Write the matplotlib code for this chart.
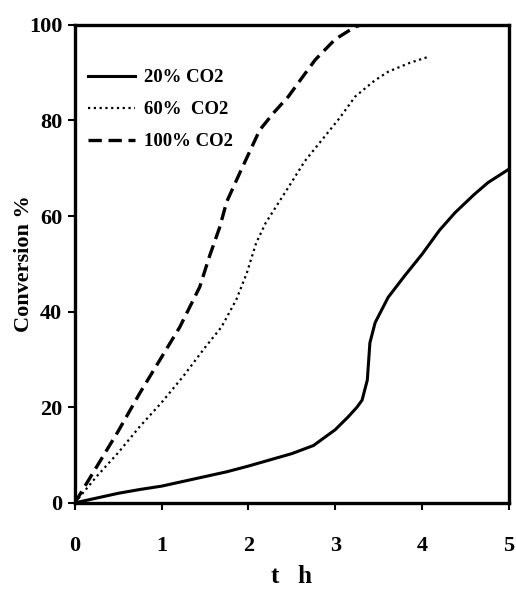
import matplotlib.pyplot as plt

# values
t_20 = [0, 0.25, 0.5, 0.75, 1.0, 1.25, 1.5, 1.75, 2.0, 2.25, 2.5, 2.75, 3.0, 3.15,
        3.25, 3.31, 3.37, 3.40, 3.46, 3.61, 3.8, 4.0, 4.2, 4.38, 4.6, 4.76, 5.0]
conv_20 = [0, 1.0, 2.0, 2.8, 3.5, 4.5, 5.5, 6.5, 7.7, 9.0, 10.3, 12.0, 15.3, 18.0,
           20.0, 21.5, 25.7, 33.5, 37.7, 43.0, 47.5, 52.0, 57.0, 60.7, 64.5, 67.0, 69.8]

t_60 = [0, 0.25, 0.5, 0.75, 1.0, 1.25, 1.5, 1.69, 1.86, 1.98, 2.09, 2.2, 2.46,
        2.65, 2.85, 3.05, 3.23, 3.45, 3.61, 3.85, 4.07]
conv_60 = [0, 5.5, 10.5, 16.0, 21.0, 26.5, 32.5, 36.8, 42.5, 48.0, 54.4, 58.6, 66.0,
           71.5, 76.0, 80.5, 85.0, 88.3, 90.2, 92.0, 93.3]

t_100 = [0, 0.25, 0.5, 0.75, 1.0, 1.21, 1.44, 1.55, 1.67, 1.75, 1.9, 2.13, 2.3,
         2.46, 2.62, 2.77, 3.0, 3.23, 3.3]
conv_100 = [0, 7.5, 15.0, 23.0, 30.5, 36.8, 45.2, 51.5, 57.7, 63.0, 69.0, 78.0, 81.8,
            85.0, 89.0, 92.7, 97.0, 99.6, 100.0]

labels = ["20% CO2", "60%  CO2", "100% CO2"]
x_ticks = [0, 1, 2, 3, 4, 5]
y_ticks = [0, 20, 40, 60, 80, 100]

plt.rcParams["font.family"] = ["Liberation Serif", "DejaVu Serif"]
plt.rcParams["font.weight"] = "bold"

fig = plt.figure(figsize=(5.16, 5.93), dpi=100)
ax = fig.add_axes([0.145, 0.152, 0.841, 0.806])

ax.plot(t_20, conv_20, color="black", lw=2.2, ls="-", label=labels[0])
ax.plot(t_60, conv_60, color="black", lw=1.6, ls=(0, (1, 1.6)), label=labels[1])
ax.plot(t_100, conv_100, color="black", lw=2.4, ls=(0, (4, 2)), label=labels[2])

ax.set_xlim(0, 5)
ax.set_ylim(0, 100)
ax.set_xticks(x_ticks)
ax.set_yticks(y_ticks)

for side in ax.spines.values():
    side.set_linewidth(2.4)

ax.tick_params(axis="both", direction="out", length=5, width=1.5, labelsize=16)
ax.tick_params(axis="x", pad=19)
ax.tick_params(axis="y", pad=4)

ax.set_xlabel("t   h", fontsize=18, fontweight="bold")
ax.xaxis.set_label_coords(0.5, -0.13)
ax.set_ylabel("Conversion %", fontsize=16, fontweight="bold")
ax.yaxis.set_label_coords(-0.095, 0.5)

ax.legend(loc="upper left", frameon=False, fontsize=13.5, handlelength=2.5,
          handletextpad=0.5, labelspacing=0.8, borderaxespad=0.3,
          bbox_to_anchor=(0.0, 0.935))

plt.savefig("out.png", dpi=100)
